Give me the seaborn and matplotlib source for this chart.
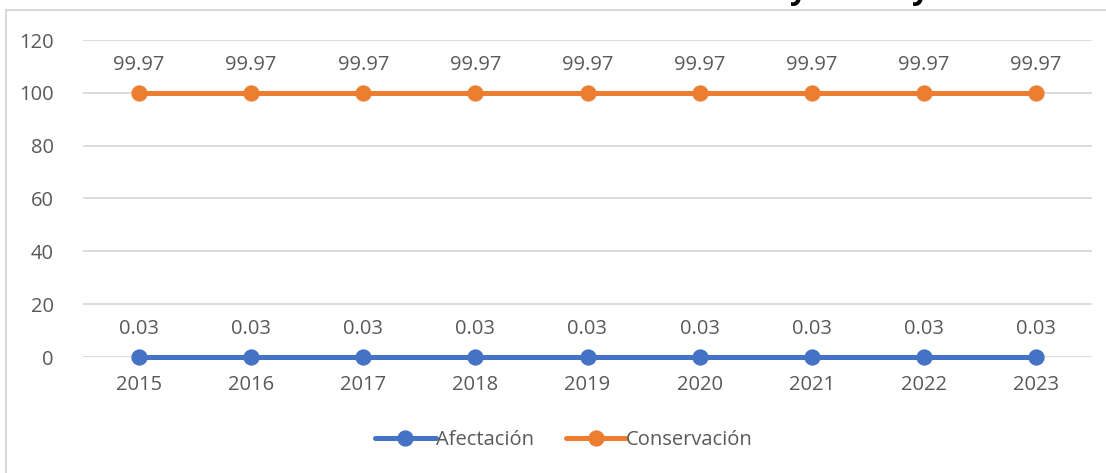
import numpy as np
import pandas as pd
import matplotlib
matplotlib.use("Agg")
import matplotlib.pyplot as plt
import seaborn as sns
from matplotlib.patches import Rectangle

# datos
years = ["2015", "2016", "2017", "2018", "2019", "2020", "2021", "2022", "2023"]
afectacion = [0.03, 0.03, 0.03, 0.03, 0.03, 0.03, 0.03, 0.03, 0.03]
conservacion = [99.97, 99.97, 99.97, 99.97, 99.97, 99.97, 99.97, 99.97, 99.97]
series_names = ["Afectación", "Conservación"]
y_ticks = [0, 20, 40, 60, 80, 100, 120]

df = pd.DataFrame({
    "year": years * 2,
    "valor": afectacion + conservacion,
    "serie": [series_names[0]] * len(years) + [series_names[1]] * len(years),
})

sns.set_style("white")
plt.rcParams["font.family"] = ["Open Sans", "DejaVu Sans"]
txt = "#595959"
fs = 14.5

fig = plt.figure(figsize=(11.06, 4.73), dpi=100)
ax = fig.add_axes([83 / 1106, 116 / 473, (1092 - 83) / 1106, (357 - 40) / 473])

# borde del area del grafico
fig.patches.append(Rectangle((6 / 1106, -0.1), 1.2, (463 / 473) + 0.1, transform=fig.transFigure,
                             fill=False, edgecolor="#D9D9D9", linewidth=1.5))

sns.pointplot(data=df, x="year", y="valor", hue="serie", order=years,
              palette=["#4472C4", "#ED7D31"], errorbar=None, dodge=False,
              markers="o", markersize=9, linewidth=3.6, ax=ax)
for art in ax.lines + ax.collections:
    art.set_clip_on(False)
    art.set_zorder(3)

ax.set_xlim(-0.5, len(years) - 0.5)
ax.set_ylim(0, 120)
ax.set_yticks(y_ticks)
ax.yaxis.grid(True, color="#D9D9D9", linewidth=1.3)
ax.set_axisbelow(True)
for s in ax.spines.values():
    s.set_visible(False)
ax.tick_params(axis="both", length=0, labelsize=fs, labelcolor=txt)
ax.tick_params(axis="y", pad=21)
ax.tick_params(axis="x", pad=13)
ax.set_xlabel("")
ax.set_ylabel("")

# etiquetas de datos
for vals in (afectacion, conservacion):
    for i, v in enumerate(vals):
        ax.annotate(f"{v:.2f}", (i, v), xytext=(0, 13), textcoords="offset points",
                    ha="center", va="bottom", fontsize=fs, color=txt)

handles, labels = ax.get_legend_handles_labels()
ax.legend(handles, labels, loc="center", bbox_to_anchor=(0.51, (473 - 440) / 473),
          bbox_transform=fig.transFigure, ncol=2, frameon=False, fontsize=fs,
          labelcolor=txt, handlelength=3.0, handletextpad=0.0, columnspacing=1.6)

# restos del titulo recortado en el borde superior
for xp in (798, 920):
    fig.text(xp / 1106, 1.003, "y", fontsize=22, fontweight="bold", color="black",
             ha="center", va="baseline")

fig.savefig("out.png", dpi=100)
